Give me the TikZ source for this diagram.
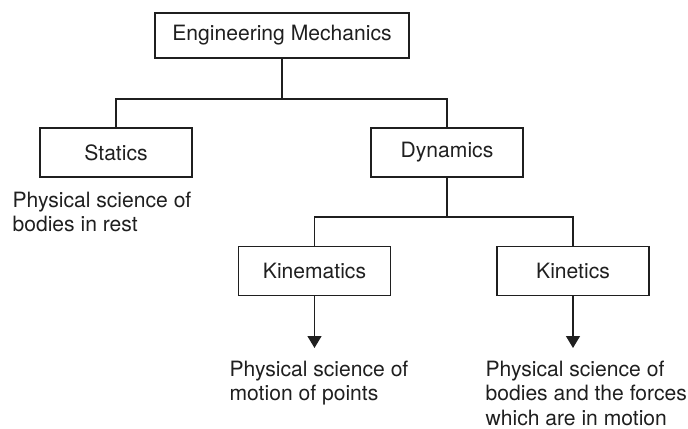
\documentclass[tikz,border=0pt]{standalone}
\usepackage{fontspec}
\setmainfont{TeX Gyre Heros}
\usetikzlibrary{arrows.meta}
\begin{document}
\begin{tikzpicture}[x=0.025cm, y=-0.025cm, line width=0.9pt, color={black!88},
  font=\fontsize{15pt}{17.6pt}\selectfont,
  box/.style={draw, rectangle, minimum width=3.8cm, minimum height=1.22cm},
  note/.style={align=left, anchor=north west, inner sep=0pt}]
\useasboundingbox (0,0) rectangle (688,428);
\node[draw, rectangle, minimum width=6.35cm, minimum height=1.12cm] (mech) at (282,35.5) {Engineering Mechanics};
\node[box] (statics) at (116,152.5) {Statics};
\node[box] (dynamics) at (447,152.5) {Dynamics};
\node[box] (kinematics) at (314.5,271) {Kinematics};
\node[box] (kinetics) at (573,271) {Kinetics};
\coordinate (split1) at (282,99);
\coordinate (split2) at (447,217);

\node[note] (staticsnote) at (12,191) {Physical science of\\bodies in rest};
\node[note] (kinematicsnote) at (229,360) {Physical science of\\motion of points};
\node[note] (kineticsnote) at (485,360) {Physical science of\\bodies and the forces\\which are in motion};

\draw (mech) -- (split1);
\draw (split1) -| (statics);
\draw (split1) -| (dynamics);
\draw (dynamics) -- (split2);
\draw (split2) -| (kinematics);
\draw (split2) -| (kinetics);
\draw[-{Triangle[width=0.35cm,length=0.3cm]}] (kinematics) -- (kinematics |- 0,348);
\draw[-{Triangle[width=0.35cm,length=0.3cm]}] (kinetics) -- (kinetics |- 0,348);
\end{tikzpicture}
\end{document}
